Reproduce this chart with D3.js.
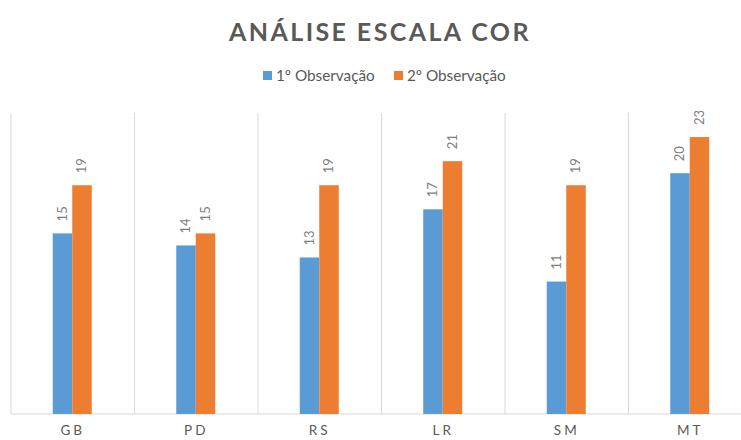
<!DOCTYPE html>
<html lang="pt">
<head>
<meta charset="UTF-8">
<title>Análise Escala Cor</title>
<script src="https://d3js.org/d3.v7.min.js"></script>
<style>
  body { margin: 0; background: white; }
  text { font-family: Lato, "Open Sans", sans-serif; }
</style>
</head>
<body>
<svg id="main" width="741" height="440"></svg>
<script>
// data
let categories = ["GB", "PD", "RS", "LR", "SM", "MT"];
let seriesNames = ["1º Observação", "2º Observação"];
let obs1 = [15, 14, 13, 17, 11, 20];
let obs2 = [19, 15, 19, 21, 19, 23];
let colors = ["#5B9BD5", "#ED7D31"];

let svg = d3.select('svg#main');
let plot = {left: 11, right: 752, top: 113, bottom: 414};

let x = d3.scaleBand().domain(categories).range([plot.left, plot.right]);
let xInner = d3.scaleBand().domain([0, 1]).range([0, 39]);
let y = d3.scaleLinear().domain([0, 25]).range([plot.bottom, plot.top]);

// vertical gridlines between categories
let edges = categories.map(function (c) { return x(c); }).concat([plot.right]);
svg.append('g').selectAll('line')
    .data(edges)
    .enter().append('line')
    .attr('x1', function (d) { return d; })
    .attr('x2', function (d) { return d; })
    .attr('y1', plot.top)
    .attr('y2', plot.bottom)
    .style('stroke', '#d9d9d9')
    .style('stroke-width', 1);

// baseline
svg.append('line')
    .attr('x1', plot.left).attr('x2', plot.right)
    .attr('y1', plot.bottom).attr('y2', plot.bottom)
    .style('stroke', '#d9d9d9')
    .style('stroke-width', 1);

let rows = categories.map(function (c, i) { return {cat: c, vals: [obs1[i], obs2[i]]}; });

let groups = svg.selectAll('g.cat')
    .data(rows)
    .enter().append('g')
    .attr('class', 'cat')
    .attr('transform', function (d) {
        return 'translate(' + (x(d.cat) + x.bandwidth() / 2 - 20) + ',0)';
    });

groups.selectAll('rect')
    .data(function (d) { return d.vals; })
    .enter().append('rect')
    .attr('x', function (d, i) { return xInner(i); })
    .attr('width', xInner.bandwidth())
    .attr('y', function (d) { return y(d); })
    .attr('height', function (d) { return plot.bottom - y(d); })
    .style('fill', function (d, i) { return colors[i]; });

// rotated value labels
groups.selectAll('text.val')
    .data(function (d) { return d.vals; })
    .enter().append('text')
    .attr('class', 'val')
    .attr('transform', function (d, i) {
        let cx = xInner(i) + xInner.bandwidth() / 2 + 4;
        return 'translate(' + cx + ',' + (y(d) - 12) + ') rotate(-90)';
    })
    .attr('text-anchor', 'start')
    .style('font-size', '13px')
    .style('fill', '#7f7f7f')
    .text(function (d) { return d; });

// category labels
let xAxis = svg.append('g')
    .attr('transform', 'translate(0,' + plot.bottom + ')')
    .call(d3.axisBottom(x).tickSize(0).tickPadding(11));
xAxis.select('.domain').remove();
xAxis.selectAll('text')
    .style('font-size', '13.5px')
    .style('letter-spacing', '3px')
    .style('fill', '#595959')
    .style('font-family', 'Lato, "Open Sans", sans-serif');

// title
svg.append('text')
    .attr('x', 380).attr('y', 41)
    .attr('text-anchor', 'middle')
    .style('font-size', '25px')
    .style('font-weight', 'bold')
    .style('letter-spacing', '2.4px')
    .style('fill', '#595959')
    .text('ANÁLISE ESCALA COR');

// legend
let legendX = [263, 394];
let legend = svg.selectAll('g.legend')
    .data(seriesNames)
    .enter().append('g')
    .attr('class', 'legend')
    .attr('transform', function (d, i) { return 'translate(' + legendX[i] + ',71)'; });
legend.append('rect')
    .attr('width', 9).attr('height', 9)
    .style('fill', function (d, i) { return colors[i]; });
legend.append('text')
    .attr('x', 13).attr('y', 10)
    .style('font-size', '15.3px')
    .style('fill', '#595959')
    .text(function (d) { return d; });
</script>
</body>
</html>
